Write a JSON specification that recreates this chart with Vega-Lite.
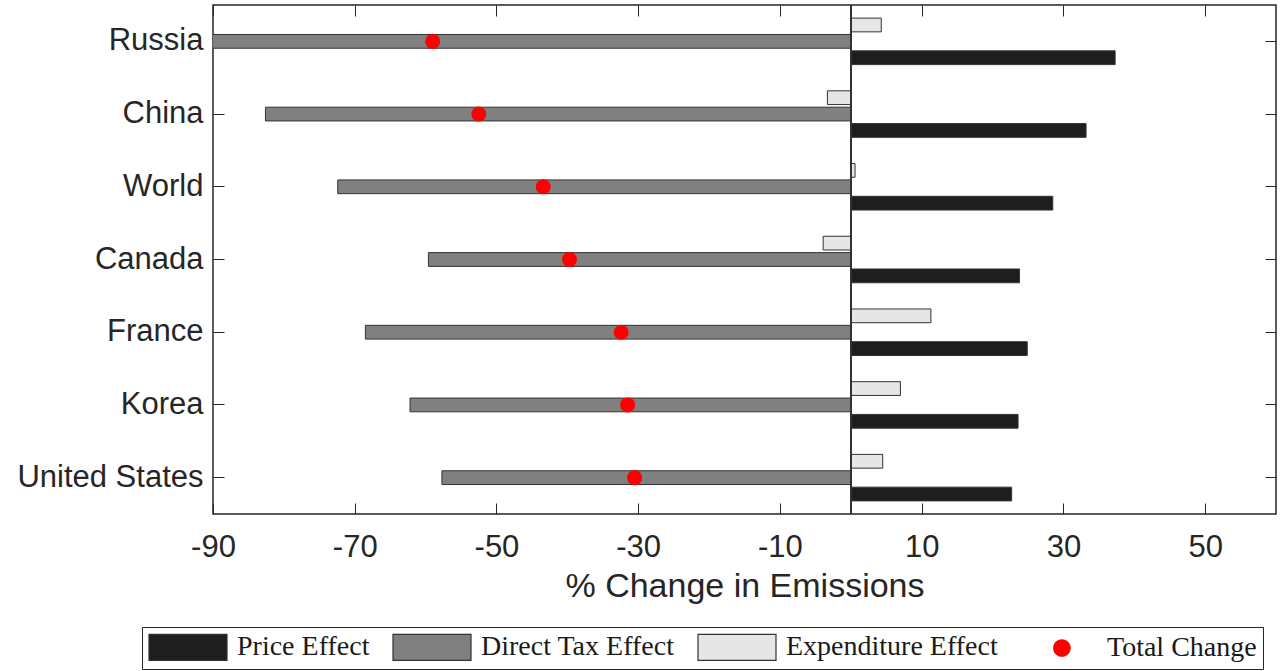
{
  "$schema": "https://vega.github.io/schema/vega-lite/v6.json",
  "width": 1063,
  "height": 509,
  "autosize": "none",
  "padding": {"left": 213, "top": 5, "right": 5, "bottom": 157},
  "background": "white",
  "data": {
    "values": [
      {"country": "Russia", "effect": "Price Effect", "value": 37.3},
      {"country": "Russia", "effect": "Direct Tax Effect", "value": -100.6},
      {"country": "Russia", "effect": "Expenditure Effect", "value": 4.3},
      {"country": "Russia", "effect": "Total Change", "value": -59.0},
      {"country": "China", "effect": "Price Effect", "value": 33.2},
      {"country": "China", "effect": "Direct Tax Effect", "value": -82.6},
      {"country": "China", "effect": "Expenditure Effect", "value": -3.3},
      {"country": "China", "effect": "Total Change", "value": -52.5},
      {"country": "World", "effect": "Price Effect", "value": 28.5},
      {"country": "World", "effect": "Direct Tax Effect", "value": -72.4},
      {"country": "World", "effect": "Expenditure Effect", "value": 0.6},
      {"country": "World", "effect": "Total Change", "value": -43.4},
      {"country": "Canada", "effect": "Price Effect", "value": 23.8},
      {"country": "Canada", "effect": "Direct Tax Effect", "value": -59.6},
      {"country": "Canada", "effect": "Expenditure Effect", "value": -3.9},
      {"country": "Canada", "effect": "Total Change", "value": -39.7},
      {"country": "France", "effect": "Price Effect", "value": 24.9},
      {"country": "France", "effect": "Direct Tax Effect", "value": -68.5},
      {"country": "France", "effect": "Expenditure Effect", "value": 11.3},
      {"country": "France", "effect": "Total Change", "value": -32.4},
      {"country": "Korea", "effect": "Price Effect", "value": 23.6},
      {"country": "Korea", "effect": "Direct Tax Effect", "value": -62.2},
      {"country": "Korea", "effect": "Expenditure Effect", "value": 7.0},
      {"country": "Korea", "effect": "Total Change", "value": -31.5},
      {"country": "United States", "effect": "Price Effect", "value": 22.7},
      {"country": "United States", "effect": "Direct Tax Effect", "value": -57.7},
      {"country": "United States", "effect": "Expenditure Effect", "value": 4.5},
      {"country": "United States", "effect": "Total Change", "value": -30.5}
    ]
  },
  "layer": [
    {
      "transform": [{"filter": "datum.effect !== 'Total Change'"}],
      "mark": {"type": "bar", "clip": true, "stroke": "#333333", "strokeWidth": 1},
      "encoding": {
        "y": {
          "field": "country",
          "type": "nominal",
          "sort": ["Russia", "China", "World", "Canada", "France", "Korea", "United States"],
          "scale": {"paddingInner": 0, "paddingOuter": 0},
          "axis": {
            "orient": "left",
            "offset": -11,
            "tickSize": 11,
            "domain": false,
            "labelPadding": 10,
            "labelFontSize": 31,
            "labelLimit": 320,
            "title": null
          }
        },
        "yOffset": {
          "field": "effect",
          "type": "nominal",
          "sort": ["Expenditure Effect", "Direct Tax Effect", "Price Effect"],
          "scale": {"paddingInner": 0.16, "paddingOuter": 0.8}
        },
        "x": {
          "field": "value",
          "type": "quantitative",
          "scale": {"domain": [-90, 60], "nice": false},
          "axis": {
            "orient": "bottom",
            "values": [-90, -70, -50, -30, -10, 10, 30, 50],
            "offset": -11,
            "tickSize": 11,
            "domain": false,
            "grid": false,
            "labelFlush": false,
            "labelOverlap": false,
            "labelFontSize": 31,
            "labelPadding": 18,
            "labelExpr": "'' + datum.value",
            "title": "% Change in Emissions",
            "titleFontSize": 34,
            "titleFontWeight": "normal",
            "titlePadding": 7
          }
        },
        "color": {
          "field": "effect",
          "type": "nominal",
          "scale": {
            "domain": ["Price Effect", "Direct Tax Effect", "Expenditure Effect", "Total Change"],
            "range": ["#1e1e1e", "#808080", "#e6e6e6", "#ff0000"]
          },
          "legend": {
            "title": null,
            "orient": "none",
            "legendX": -71,
            "legendY": 622,
            "direction": "horizontal",
            "columns": 4,
            "columnPadding": 20,
            "symbolType": "M-1,-1L5,-1L5,1L-1,1Z",
            "symbolSize": 676,
            "symbolStrokeColor": "#333333",
            "symbolStrokeWidth": 1.2,
            "labelOffset": 61,
            "labelFont": "Liberation Serif",
            "labelFontSize": 28,
            "labelColor": "#1a1a1a",
            "labelLimit": 400,
            "strokeColor": "#262626",
            "fillColor": "white",
            "padding": 6,
            "encode": {
              "symbols": {
                "update": {
                  "shape": [
                    {"test": "datum.value === 'Total Change'", "value": "M2.98,0A0.68,0.68 0 1,1 1.62,0A0.68,0.68 0 1,1 2.98,0Z"},
                    {"value": "M-1,-1L5,-1L5,1L-1,1Z"}
                  ],
                  "stroke": [
                    {"test": "datum.value === 'Total Change'", "value": "transparent"},
                    {"value": "#333333"}
                  ]
                }
              }
            }
          }
        }
      }
    },
    {
      "mark": {"type": "rule", "color": "#333333", "strokeWidth": 1},
      "encoding": {
        "x": {"datum": 0, "type": "quantitative", "axis": null}
      }
    },
    {
      "transform": [{"filter": "datum.effect === 'Total Change'"}],
      "mark": {"type": "point", "filled": true, "size": 227, "opacity": 1},
      "encoding": {
        "y": {
          "field": "country",
          "type": "nominal",
          "sort": ["Russia", "China", "World", "Canada", "France", "Korea", "United States"],
          "axis": {
            "orient": "right",
            "offset": -11,
            "tickSize": 11,
            "labels": false,
            "domain": false,
            "title": null
          }
        },
        "x": {
          "field": "value",
          "type": "quantitative",
          "axis": {
            "orient": "top",
            "values": [-90, -70, -50, -30, -10, 10, 30, 50],
            "offset": -11,
            "tickSize": 11,
            "labels": false,
            "domain": false,
            "grid": false,
            "title": null
          }
        },
        "color": {"field": "effect", "type": "nominal"}
      }
    }
  ],
  "resolve": {"axis": {"x": "independent", "y": "independent"}},
  "config": {
    "view": {"stroke": "#262626", "strokeWidth": 1.5},
    "axis": {
      "labelFont": "Liberation Sans",
      "titleFont": "Liberation Sans",
      "labelColor": "#262626",
      "titleColor": "#262626",
      "tickColor": "#262626",
      "tickWidth": 1
    }
  }
}
